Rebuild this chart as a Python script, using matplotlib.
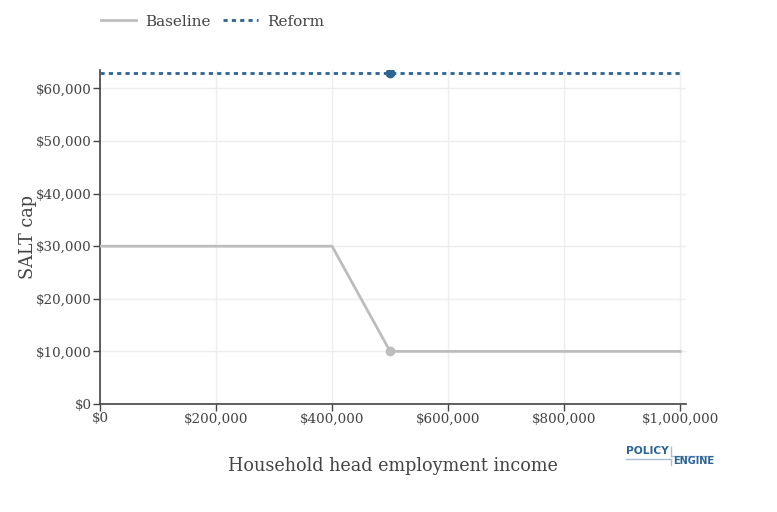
import matplotlib.pyplot as plt
import numpy as np

# data
income = [0, 400000, 500000, 1000000]
baseline_cap = [30000, 30000, 10000, 10000]
reform_cap = [63000, 63000, 63000, 63000]
marker_income = 500000
baseline_marker = 10000
reform_marker = 63000

x_ticks = [0, 200000, 400000, 600000, 800000, 1000000]
y_ticks = [0, 10000, 20000, 30000, 40000, 50000, 60000]

grey = '#bdbdbd'
blue = '#2c6496'
text_col = '#444444'

plt.rcParams['font.family'] = ['DejaVu Serif']

fig = plt.figure(figsize=(7.77, 5.12), dpi=100)
ax = fig.add_axes([100/777, 1-404/512, 586/777, 334/512])

ax.plot(income, baseline_cap, color=grey, lw=2, label='Baseline', zorder=3)
ax.plot(income, reform_cap, color=blue, lw=2, ls=(0, (1.5, 1.5)), label='Reform', zorder=3)
ax.plot([marker_income], [baseline_marker], 'o', color=grey, ms=6, zorder=4)
ax.plot([marker_income], [reform_marker], 'o', color=blue, ms=6, zorder=4)

ax.set_xlim(0, 1010000)
ax.set_ylim(0, 63500)
ax.set_xticks(x_ticks)
ax.set_yticks(y_ticks)
ax.set_xticklabels(['${:,}'.format(v) for v in x_ticks])
ax.set_yticklabels(['${:,}'.format(v) for v in y_ticks])
ax.grid(True, color='#eeeeee', lw=1)
ax.set_axisbelow(True)

for s in ['top', 'right']:
    ax.spines[s].set_visible(False)
for s in ['left', 'bottom']:
    ax.spines[s].set_color(text_col)
    ax.spines[s].set_linewidth(1.2)
ax.tick_params(colors=text_col, labelsize=9.7, length=5, width=1, pad=1)

ax.set_xlabel('Household head employment income', fontsize=12.7, color=text_col, labelpad=23)
ax.set_ylabel('SALT cap', fontsize=12.7, color=text_col, labelpad=-1)

fig.legend(loc='upper left', bbox_to_anchor=(0.112, 0.998), ncol=2, frameon=False,
           fontsize=11, labelcolor=text_col, handlelength=2.3, columnspacing=0.8,
           handletextpad=0.6)

# logo
fig.text(626/777, 1-451/512, 'POLICY', color=blue, fontsize=7.7, fontweight='bold',
         family='DejaVu Sans', va='center', ha='left')
fig.text(673/777, 1-461/512, 'ENGINE', color=blue, fontsize=7.0, fontweight='bold',
         family='DejaVu Sans', va='center', ha='left')
lc = '#a9bfd6'
fig.add_artist(plt.Line2D([626/777, 671/777], [1-459/512, 1-459/512], color=lc, lw=1))
fig.add_artist(plt.Line2D([671/777, 671/777], [1-459/512, 1-465/512], color=lc, lw=1))
fig.add_artist(plt.Line2D([671/777, 671/777], [1-447/512, 1-456/512], color=lc, lw=1))
fig.add_artist(plt.Line2D([671/777, 713/777], [1-456/512, 1-456/512], color=lc, lw=1))

fig.savefig('out.png', dpi=100)
